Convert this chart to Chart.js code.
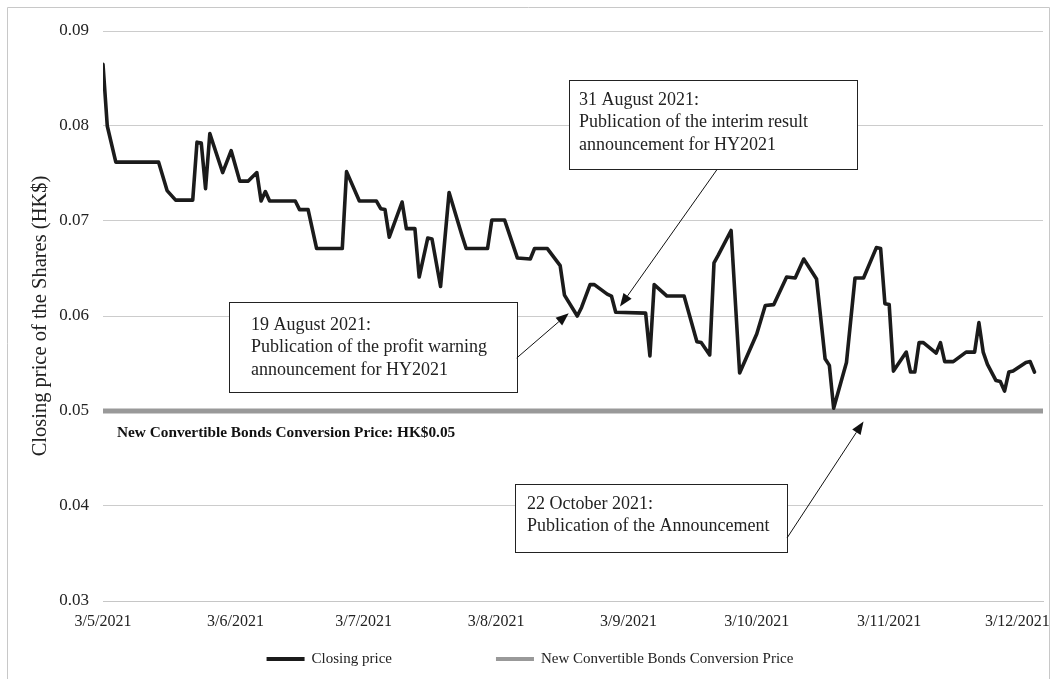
<!DOCTYPE html>
<html>
<head>
<meta charset="utf-8">
<script src="https://cdn.jsdelivr.net/npm/chart.js@4.4.0/dist/chart.umd.min.js"></script>
<style>
html,body{margin:0;padding:0;background:#fff;}
canvas{display:block;}
</style>
</head>
<body>
<canvas id="c" width="1056" height="679"></canvas>
<script>
// ---------------- DATA ----------------
const priceDates = [
 "2021-05-03","2021-05-04","2021-05-06","2021-05-16","2021-05-18","2021-05-20","2021-05-24","2021-05-25","2021-05-26","2021-05-27",
 "2021-05-28","2021-05-31","2021-06-02","2021-06-04","2021-06-06","2021-06-08","2021-06-09","2021-06-10","2021-06-11","2021-06-17",
 "2021-06-18","2021-06-20","2021-06-22","2021-06-28","2021-06-29","2021-07-02","2021-07-06","2021-07-07","2021-07-08","2021-07-09",
 "2021-07-12","2021-07-13","2021-07-15","2021-07-16","2021-07-18","2021-07-19","2021-07-21","2021-07-23","2021-07-26","2021-07-27",
 "2021-08-01","2021-08-02","2021-08-05","2021-08-08","2021-08-11","2021-08-12","2021-08-15","2021-08-18","2021-08-19","2021-08-22",
 "2021-08-23","2021-08-25","2021-08-26","2021-08-29","2021-08-30","2021-08-31","2021-09-07","2021-09-08","2021-09-09","2021-09-12",
 "2021-09-16","2021-09-19","2021-09-20","2021-09-22","2021-09-23","2021-09-24","2021-09-27","2021-09-29","2021-10-03","2021-10-05",
 "2021-10-07","2021-10-10","2021-10-12","2021-10-14","2021-10-17","2021-10-19","2021-10-20","2021-10-21","2021-10-24","2021-10-26",
 "2021-10-28","2021-10-31","2021-11-01","2021-11-02","2021-11-03","2021-11-04","2021-11-07","2021-11-08","2021-11-09","2021-11-10",
 "2021-11-11","2021-11-14","2021-11-15","2021-11-16","2021-11-18","2021-11-21","2021-11-23","2021-11-24","2021-11-25","2021-11-26",
 "2021-11-28","2021-11-29","2021-11-30","2021-12-01","2021-12-02","2021-12-05","2021-12-06","2021-12-07"
];
const closingPrices = [
 0.0865,0.0800,0.0762,0.0762,0.0732,0.0722,0.0722,0.0783,0.0782,0.0734,
 0.0792,0.0751,0.0774,0.0742,0.0742,0.0751,0.0721,0.0731,0.0721,0.0721,
 0.0712,0.0712,0.0671,0.0671,0.0752,0.0721,0.0721,0.0713,0.0712,0.0683,
 0.0720,0.0692,0.0692,0.0641,0.0682,0.0681,0.0631,0.0730,0.0685,0.0671,
 0.0671,0.0701,0.0701,0.0661,0.0660,0.0671,0.0671,0.0653,0.0622,0.0600,
 0.0609,0.0633,0.0633,0.0623,0.0621,0.0604,0.0603,0.0558,0.0633,0.0621,
 0.0621,0.0573,0.0572,0.0559,0.0656,0.0664,0.0690,0.0540,0.0581,0.0611,
 0.0612,0.0641,0.0640,0.0660,0.0639,0.0555,0.0548,0.0503,0.0551,0.0640,
 0.0640,0.0672,0.0671,0.0613,0.0612,0.0542,0.0562,0.0541,0.0541,0.0572,
 0.0572,0.0561,0.0572,0.0552,0.0552,0.0562,0.0562,0.0593,0.0562,0.0549,
 0.0532,0.0531,0.0521,0.0541,0.0542,0.0551,0.0552,0.0541
];
const conversionDates = ["2021-05-03","2021-12-09"];
const conversionPrices = [0.05, 0.05];
const tickDates = ["2021-05-03","2021-06-03","2021-07-03","2021-08-03","2021-09-03","2021-10-03","2021-11-03","2021-12-03"];
const tickLabels = ["3/5/2021","3/6/2021","3/7/2021","3/8/2021","3/9/2021","3/10/2021","3/11/2021","3/12/2021"];
const yTicks = [0.03,0.04,0.05,0.06,0.07,0.08,0.09];
const seriesNames = ["Closing price","New Convertible Bonds Conversion Price"];
const conversionLabel = "New Convertible Bonds Conversion Price: HK$0.05";
const annotationTexts = [
  ["31 August 2021:","Publication of the interim result","announcement for HY2021"],
  ["19 August 2021:","Publication of the profit warning","announcement for HY2021"],
  ["22 October 2021:","Publication of the Announcement"]
];
// arrow tips in data space (date, price)
const arrowTipDates = ["2021-09-01","2021-08-20","2021-10-28"];
const arrowTipPrices = [0.0610, 0.0603, 0.0489];

// ---------------- LAYOUT / STYLE ----------------
const SERIF = "'Liberation Serif','Times New Roman',serif";
const TXT = '#222222';
const boxes = [
  {x:569, y:80,  w:288, h:89, padX:10, firstY:20, lineH:22.7, from:{x:716.7, y:170}},
  {x:229, y:302, w:288, h:90, padX:22, firstY:23, lineH:22.7, from:{x:516.7, y:358}},
  {x:515, y:484, w:272, h:68, padX:12, firstY:20, lineH:22.7, from:{x:787, y:538}}
];

const DAY = 86400000;
const t0 = Date.parse(priceDates[0] + "T00:00:00Z");
const toDay = s => (Date.parse(s + "T00:00:00Z") - t0) / DAY;
const tickDays = tickDates.map(toDay);

function arrow(ctx, x1, y1, x2, y2){
  const ang = Math.atan2(y2 - y1, x2 - x1);
  const L = 13, W = 5;
  const bx = x2 - L*Math.cos(ang), by = y2 - L*Math.sin(ang);
  ctx.beginPath(); ctx.moveTo(x1,y1); ctx.lineTo(bx,by);
  ctx.strokeStyle = '#111'; ctx.lineWidth = 1; ctx.stroke();
  ctx.beginPath();
  ctx.moveTo(x2,y2);
  ctx.lineTo(bx + W*Math.sin(ang), by - W*Math.cos(ang));
  ctx.lineTo(bx - W*Math.sin(ang), by + W*Math.cos(ang));
  ctx.closePath(); ctx.fillStyle = '#111'; ctx.fill();
}

const decor = {
  id:'decor',
  beforeDraw(chart){
    const c = chart.ctx;
    c.save(); c.fillStyle = '#fff'; c.fillRect(0,0,chart.width,chart.height); c.restore();
  },
  afterDatasetsDraw(chart){
    const c = chart.ctx, xs = chart.scales.x, ys = chart.scales.y;
    c.save();
    // outer frame
    c.strokeStyle = '#c8c8c8'; c.lineWidth = 1;
    c.beginPath(); c.moveTo(7.5, 690); c.lineTo(7.5, 7.5); c.lineTo(1049.5, 7.5); c.lineTo(1049.5, 690); c.stroke();
    // conversion label
    c.font = "bold 15.3px " + SERIF; c.fillStyle = '#111'; c.textBaseline = 'middle'; c.textAlign = 'left';
    c.fillText(conversionLabel, 117, ys.getPixelForValue(conversionPrices[0]) + 22);
    // annotation boxes
    boxes.forEach((b, i) => {
      c.fillStyle = '#fff'; c.fillRect(b.x, b.y, b.w, b.h);
      c.strokeStyle = '#222'; c.lineWidth = 1;
      c.strokeRect(b.x + 0.5, b.y + 0.5, b.w, b.h);
      c.fillStyle = TXT; c.font = "18px " + SERIF; c.textBaseline = 'middle'; c.textAlign = 'left';
      annotationTexts[i].forEach((t, k) => c.fillText(t, b.x + b.padX, b.y + b.firstY + k*b.lineH));
      const tx = xs.getPixelForValue(toDay(arrowTipDates[i])), ty = ys.getPixelForValue(arrowTipPrices[i]);
      arrow(c, b.from.x, b.from.y, tx, ty);
    });
    // legend
    c.font = "15px " + SERIF; c.textBaseline = 'middle';
    const cy = 659, sw = 38, gap = 7, spacing = 104;
    const w0 = c.measureText(seriesNames[0]).width, w1 = c.measureText(seriesNames[1]).width;
    const total = sw + gap + w0 + spacing + sw + gap + w1;
    let x = chart.width/2 - total/2 + 2;
    const cols = chart.data.datasets.map(d => d.borderColor);
    [w0, w1].forEach((w, i) => {
      c.fillStyle = cols[i]; c.fillRect(x, cy - 2, sw, 4);
      c.fillStyle = TXT; c.fillText(seriesNames[i], x + sw + gap, cy);
      x += sw + gap + w + spacing;
    });
    c.restore();
  }
};

new Chart(document.getElementById('c'), {
  type: 'line',
  data: {
    datasets: [
      { label: seriesNames[0],
        data: priceDates.map((d, i) => ({x: toDay(d), y: closingPrices[i]})),
        borderColor: '#1b1b1b', backgroundColor: '#1b1b1b', borderWidth: 3.6,
        pointRadius: 0, tension: 0, borderJoinStyle: 'round', borderCapStyle: 'round', order: 0 },
      { label: seriesNames[1],
        data: conversionDates.map((d, i) => ({x: toDay(d), y: conversionPrices[i]})),
        borderColor: '#999999', backgroundColor: '#999999', borderWidth: 5,
        pointRadius: 0, tension: 0, borderCapStyle: 'butt', order: 1 }
    ]
  },
  options: {
    responsive: false, animation: false, devicePixelRatio: 1,
    layout: { padding: { top: 31, right: 13, bottom: 38, left: 0 } },
    plugins: { legend: { display: false }, tooltip: { enabled: false } },
    scales: {
      x: {
        type: 'linear', min: 0, max: toDay(conversionDates[1]),
        afterBuildTicks: s => { s.ticks = tickDays.map(v => ({value: v})); },
        afterFit: s => { s.height = 40; s.paddingLeft = 0; s.paddingRight = 0; },
        ticks: { autoSkip: false, maxRotation: 0, padding: 11, color: TXT,
                 font: { family: SERIF, size: 16 },
                 callback: v => { const i = tickDays.indexOf(v); return i >= 0 ? tickLabels[i] : ''; } },
        grid: { display: false, drawTicks: false },
        border: { display: true, color: '#c6c6c6', width: 1 }
      },
      y: {
        min: yTicks[0], max: yTicks[yTicks.length - 1],
        afterBuildTicks: s => { s.ticks = yTicks.map(v => ({value: v})); },
        afterFit: s => { s.width = 103; s.paddingTop = 0; s.paddingBottom = 0; },
        ticks: { padding: 14, color: TXT, font: { family: SERIF, size: 17 },
                 callback: v => Number(v).toFixed(2) },
        grid: { color: '#cccccc', lineWidth: 1, drawTicks: false },
        border: { display: false },
        title: { display: true, text: 'Closing price of the Shares (HK$)', color: TXT,
                 font: { family: SERIF, size: 20.5 }, padding: { top: 28, bottom: 0 } }
      }
    }
  },
  plugins: [decor]
});
</script>
</body>
</html>
